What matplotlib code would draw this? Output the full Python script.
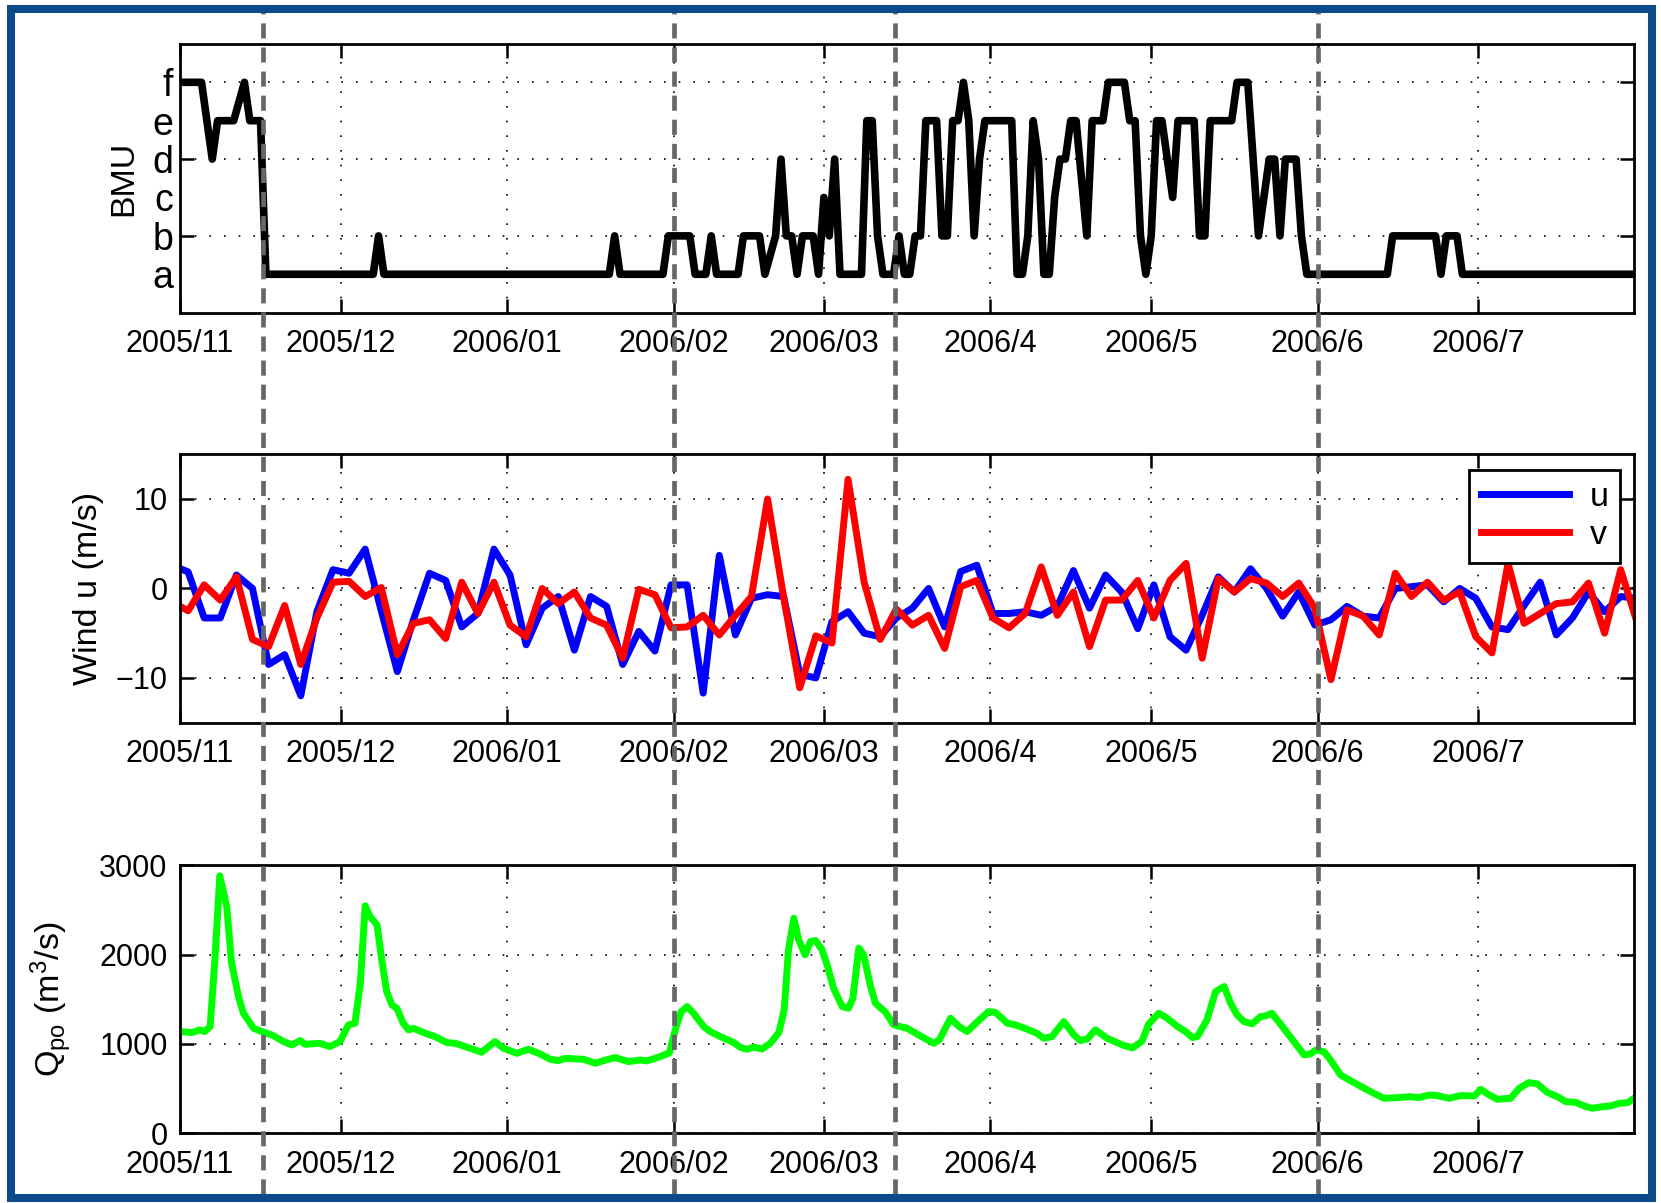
import numpy as np
import matplotlib.pyplot as plt
import matplotlib.dates as mdates
import matplotlib.transforms as mtransforms
from matplotlib.lines import Line2D
from matplotlib.patches import Rectangle

plt.rcParams['font.family'] = ['Liberation Sans', 'DejaVu Sans']
plt.rcParams['mathtext.default'] = 'regular'

# time axis: days counted from 2005-11-01
T0 = np.datetime64('2005-11-01T00:00')
X_END = 271.0

month_ticks = ['2005-11-01', '2005-12-01', '2006-01-01', '2006-02-01', '2006-03-01',
               '2006-04-01', '2006-05-01', '2006-06-01', '2006-07-01']
month_labels = ['2005/11', '2005/12', '2006/01', '2006/02', '2006/03',
                '2006/4', '2006/5', '2006/6', '2006/7']

# regime change dates (days)
event_days = [15.4, 92.0, 133.3, 212.0]

# best matching unit (1=a ... 6=f), daily series turning points
bmu_days = [0, 4, 6, 7, 10, 12, 13, 15, 16, 36, 37, 38, 80, 81, 82, 90, 91, 95, 96, 98,
            99, 100, 104, 105, 108, 109, 111, 112, 113, 114, 115, 116, 118, 119, 120, 121,
            122, 123, 127, 128, 129, 130, 131, 133, 134, 135, 136, 137, 138, 139, 141, 142,
            143, 144, 145, 146, 147, 148, 149, 150, 155, 156, 157, 158, 159, 160, 161, 162,
            163, 164, 165, 166, 167, 169, 170, 172, 173, 176, 177, 178, 179, 180, 181, 182,
            183, 185, 186, 189, 190, 191, 192, 196, 197, 199, 201, 203, 204, 205, 206, 208,
            209, 210, 225, 226, 234, 235, 236, 238, 239, 271]
bmu_vals = [6, 6, 4, 5, 5, 6, 5, 5, 1, 1, 2, 1, 1, 2, 1, 1, 2, 2, 1, 1,
            2, 1, 1, 2, 2, 1, 2, 4, 2, 2, 1, 2, 2, 1, 3, 2,
            4, 1, 1, 5, 5, 2, 1, 1, 2, 1, 1, 2, 2, 5, 5, 2,
            2, 5, 5, 6, 5, 2, 4, 5, 5, 1, 1, 2, 5, 4, 1, 1,
            3, 4, 4, 5, 5, 2, 5, 5, 6, 6, 5, 5, 2, 1, 2, 5,
            5, 3, 5, 5, 2, 2, 5, 5, 6, 6, 2, 4, 4, 2, 4, 4,
            2, 1, 1, 2, 2, 1, 2, 2, 1, 1]
bmu_letters = ['a', 'b', 'c', 'd', 'e', 'f']

# wind components (m/s), 3-day samples starting at day -1.5
wind_start, wind_step = -1.5, 3.0
wind_u = [2.6, 1.85, -3.3, -3.3, 1.5, 0.0, -8.5, -7.4, -12.0, -2.6,
          2.1, 1.7, 4.4, -2.5, -9.3, -3.5, 1.7, 0.9, -4.3, -2.8,
          4.4, 1.5, -6.3, -2.2, -0.9, -6.9, -0.9, -2.0, -8.5, -4.8,
          -7.0, 0.4, 0.4, -11.7, 3.7, -5.2, -1.1, -0.7, -0.9, -9.6,
          -10.0, -3.7, -2.6, -5.0, -5.4, -3.3, -2.2, 0.0, -4.3, 1.9,
          2.6, -2.8, -2.8, -2.6, -3.0, -2.0, 2.0, -2.2, 1.5, -0.4,
          -4.5, 0.4, -5.4, -6.9, -3.0, 1.3, -0.4, 2.2, 0.0, -3.1,
          -0.4, -4.1, -3.5, -2.0, -3.1, -3.3, 0.0, 0.2, 0.4, -1.5,
          0.0, -1.1, -4.3, -4.6, -1.9, 0.7, -5.2, -3.3, -0.4, -2.6,
          -0.9, -1.1]
wind_v = [-1.5, -2.5, 0.4, -1.3, 1.3, -5.7, -6.5, -1.9, -8.5, -3.3,
          0.7, 0.8, -0.9, 0.1, -7.4, -3.9, -3.5, -5.6, 0.7, -2.8,
          0.7, -4.1, -5.4, 0.0, -1.7, -0.4, -3.3, -4.1, -7.8, -0.1,
          -0.7, -4.4, -4.3, -3.0, -5.2, -3.0, -0.9, 10.0, -1.0, -11.1,
          -5.3, -6.1, 12.2, 0.7, -5.7, -2.3, -4.1, -3.0, -6.7, 0.2,
          0.9, -3.3, -4.4, -2.8, 2.4, -3.0, -0.4, -6.5, -1.3, -1.3,
          0.9, -3.3, 0.9, 2.8, -7.8, 1.1, -0.4, 1.1, 0.6, -0.9,
          0.6, -2.2, -10.2, -2.4, -3.1, -5.2, 1.7, -0.9, 0.7, -1.3,
          -0.4, -5.4, -7.2, 2.8, -3.9, -2.8, -1.7, -1.5, 0.6, -5.0,
          2.1, -3.7]

# Po river discharge (m3/s)
q_days = [0.0, 2.2, 3.7, 4.6, 5.6, 6.5, 7.4, 8.7, 9.6, 10.9, 11.8, 13.7, 15.2, 17.1,
          19.3, 20.8, 22.4, 23.3, 26.1, 27.9, 29.8, 31.4, 32.6, 33.6, 34.5, 35.4, 36.7,
          37.6, 38.5, 39.5, 40.4, 41.6, 42.6, 43.5, 45.7, 47.5, 49.7, 51.3, 54.1, 56.2,
          58.7, 60.3, 62.8, 64.9, 67.1, 69.0, 70.5, 71.8, 75.2, 77.4, 78.9, 81.1, 83.6,
          85.8, 87.0, 89.5, 91.2, 92.4, 93.4, 94.5, 95.7, 97.6, 98.8, 100.7, 103.2,
          104.4, 105.6, 106.9, 108.5, 110.0, 111.6, 112.6, 113.4, 114.4, 115.3, 116.5,
          117.5, 118.4, 119.6, 120.6, 121.8, 123.4, 124.6, 125.4, 126.5, 127.4, 128.7,
          129.6, 131.5, 133.0, 135.5, 138.0, 140.5, 141.5, 143.6, 145.2, 146.7, 148.3,
          150.7, 152.0, 154.2, 155.7, 157.9, 159.7, 161.0, 162.5, 164.7, 166.6, 167.8,
          169.1, 170.6, 172.8, 175.6, 177.5, 179.3, 180.5, 182.4, 184.0, 185.9, 187.4,
          188.7, 189.6, 191.4, 193.0, 194.6, 195.8, 197.0, 198.3, 199.8, 201.4, 202.3,
          203.5, 205.7, 207.6, 209.5, 210.7, 211.7, 213.2, 214.4, 216.3, 217.9, 220.7,
          222.5, 224.4, 226.9, 229.3, 230.9, 232.8, 234.3, 236.5, 238.7, 241.2, 242.4,
          244.0, 245.5, 248.0, 249.6, 251.4, 253.0, 254.8, 256.7, 258.3, 260.1, 261.7,
          263.2, 265.1, 266.6, 268.2, 269.8, 271.0]
q_vals = [1138, 1127, 1157, 1138, 1194, 1940, 2880, 2537, 1903, 1530, 1343, 1175, 1138, 1101,
          1026, 989, 1037, 996, 1007, 970, 1026, 1213, 1231, 1679, 2545, 2425, 2332,
          1940, 1586, 1436, 1399, 1231, 1157, 1175, 1119, 1082, 1015, 1007, 951, 907,
          1026, 951, 895, 940, 888, 828, 813, 839, 828, 784, 813, 847, 802,
          821, 810, 858, 900, 1180, 1360, 1418, 1343, 1194, 1138, 1082, 1015,
          963, 940, 963, 944, 1007, 1127, 1380, 2052, 2406, 2164, 1996,
          2145, 2157, 2060, 1884, 1623, 1418, 1399, 1511, 2071, 1996, 1642,
          1455, 1354, 1213, 1175, 1089, 1007, 1045, 1287, 1194, 1138, 1231,
          1362, 1351, 1231, 1213, 1164, 1119, 1063, 1082, 1250, 1101, 1037,
          1056, 1157, 1063, 989, 955, 1030, 1220, 1343, 1287, 1194, 1138,
          1071, 1082, 1269, 1586, 1642, 1455, 1325, 1250, 1224, 1306, 1313,
          1343, 1175, 1026, 877, 888, 933, 914, 821, 653, 597, 504,
          448, 392, 399, 410, 399, 429, 422, 392, 422, 418, 492,
          429, 381, 392, 504, 567, 552, 459, 410, 354, 347, 306,
          280, 298, 306, 336, 343, 392]


def to_dates(days):
    return T0 + np.round(np.asarray(days, dtype=float) * 1440).astype('timedelta64[m]')


TICK_FS = 22
LABEL_FS = 24.5
LETTER_FS = 27
GRID = dict(color='black', linestyle=(0, (1, 7.8)), linewidth=1.2)

fig = plt.figure(figsize=(16.61, 12.03), dpi=100)
fig.patch.set_facecolor('white')

left, width = 0.1084, 0.8754
ax1 = fig.add_axes([left, 0.7401, width, 0.2234])
ax2 = fig.add_axes([left, 0.3993, width, 0.2231])
ax3 = fig.add_axes([left, 0.0579, width, 0.2230])

wind_days = wind_start + wind_step * np.arange(len(wind_u))

ax1.plot(to_dates(bmu_days), bmu_vals, color='black', lw=5.5)
ax2.plot(to_dates(wind_days), wind_u, color='blue', lw=5.0, label='u')
ax2.plot(to_dates(wind_days), wind_v, color='red', lw=5.0, label='v')
ax3.plot(to_dates(q_days), q_vals, color=(0, 1, 0), lw=5.0)

xticks = np.array(month_ticks, dtype='datetime64[m]')
for ax in (ax1, ax2, ax3):
    ax.set_xlim(to_dates([0])[0], to_dates([X_END])[0])
    ax.set_xticks(xticks)
    ax.set_xticklabels(month_labels)
    ax.tick_params(axis='both', which='major', direction='in', length=10, width=1.8,
                   top=True, right=True, labelsize=TICK_FS, pad=9)
    ax.tick_params(axis='x', pad=12)
    ax.grid(True, which='major', **GRID)
    ax.set_axisbelow(True)
    for sp in ax.spines.values():
        sp.set_linewidth(2)

# BMU panel: letters on every level, ticks and grid on b, d, f only
ax1.set_ylim(0, 7)
ax1.set_yticks([2, 4, 6])
ax1.set_yticklabels(bmu_letters[1::2])
ax1.set_yticks([1, 3, 5], minor=True)
ax1.set_yticklabels(bmu_letters[0::2], minor=True)
ax1.tick_params(axis='y', which='both', labelsize=LETTER_FS, pad=5)
ax1.tick_params(axis='y', which='minor', length=0)
ax1.tick_params(axis='x', which='minor', length=0)
ax1.set_ylabel('BMU', fontsize=LABEL_FS)
ax1.yaxis.set_label_coords(-0.028, 0.5)

ax2.set_ylim(-15, 15)
ax2.set_yticks([-10, 0, 10])
ax2.set_ylabel('Wind u (m/s)', fontsize=LABEL_FS)
ax2.yaxis.set_label_coords(-0.052, 0.5)
leg = ax2.legend(loc='upper right', bbox_to_anchor=(0.9906, 0.9405), borderaxespad=0,
                 fontsize=LABEL_FS, handlelength=2.6, handletextpad=0.6,
                 labelspacing=0.2, fancybox=False, framealpha=1, edgecolor='black',
                 borderpad=0.35)
leg.get_frame().set_linewidth(2)

ax3.set_ylim(0, 3000)
ax3.set_yticks([0, 1000, 2000, 3000])
ax3.set_ylabel(r'$Q_{po}$ (m$^3$/s)', fontsize=LABEL_FS)
ax3.yaxis.set_label_coords(-0.073, 0.5)

# dashed markers for regime changes, across the whole figure
blend = mtransforms.blended_transform_factory(ax1.transData, fig.transFigure)
for d in to_dates(event_days):
    xn = mdates.date2num(d)
    fig.add_artist(Line2D([xn, xn], [0.0075, 0.990], transform=blend, color='#676767',
                          lw=3.4, linestyle=(0, (3.2, 1.9)), zorder=5))

fig.add_artist(Rectangle((11 / 1661, 5.5 / 1203), 1641 / 1661, 1189 / 1203,
                         transform=fig.transFigure, fill=False, edgecolor='#0c4a8a',
                         linewidth=5.8, zorder=10))

fig.savefig('out.png', dpi=100, facecolor=fig.get_facecolor())
